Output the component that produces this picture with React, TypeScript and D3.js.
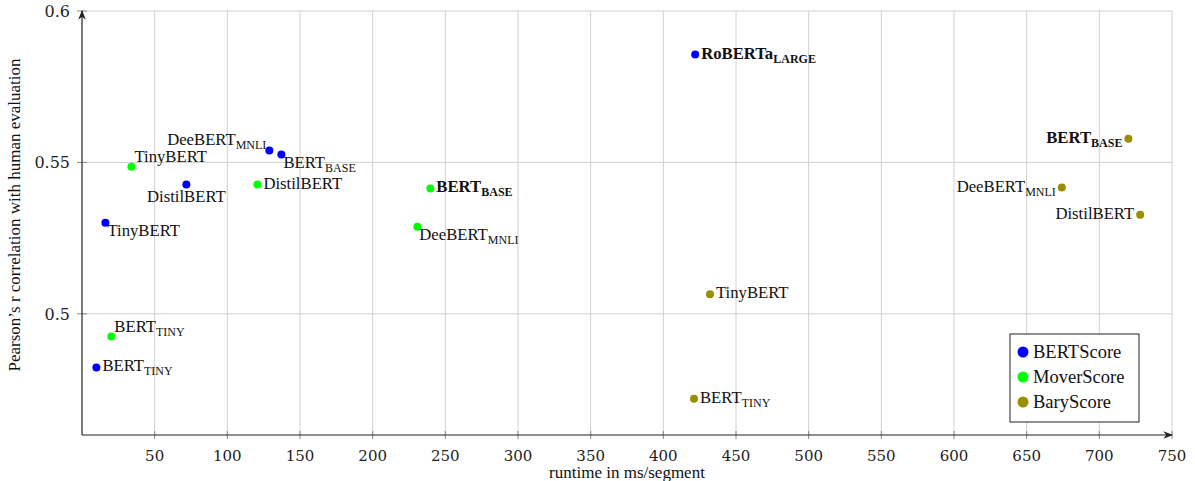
import React from "react";
import * as d3 from "d3";

const W = 1195, H = 481;
const xTicks = [50, 100, 150, 200, 250, 300, 350, 400, 450, 500, 550, 600, 650, 700, 750];
const yTicks = [0.5, 0.55, 0.6];

const seriesNames = ["BERTScore", "MoverScore", "BaryScore"];
const seriesColors = ["#0000ff", "#00ff00", "#998f00"];

// [name, sub, bold, x, y, placement]
type P = [string, string, boolean, number, number, string];
const bertScore: P[] = [
  ["RoBERTa", "LARGE", true, 421.9, 0.5856, "e"],
  ["DeeBERT", "MNLI", false, 128.9, 0.5539, "nw"],
  ["BERT", "BASE", false, 137.2, 0.5526, "se"],
  ["DistilBERT", "", false, 71.8, 0.5427, "s"],
  ["TinyBERT", "", false, 16.1, 0.5301, "se"],
  ["BERT", "TINY", false, 9.9, 0.4823, "e"],
];
const moverScore: P[] = [
  ["TinyBERT", "", false, 34.0, 0.5486, "ne"],
  ["DistilBERT", "", false, 120.7, 0.5427, "e"],
  ["BERT", "BASE", true, 239.7, 0.5414, "e"],
  ["DeeBERT", "MNLI", false, 230.7, 0.5288, "se"],
  ["BERT", "TINY", false, 20.2, 0.4925, "ne"],
];
const baryScore: P[] = [
  ["BERT", "BASE", true, 720.0, 0.5578, "w"],
  ["DeeBERT", "MNLI", false, 674.2, 0.5417, "w"],
  ["DistilBERT", "", false, 728.1, 0.5327, "w"],
  ["TinyBERT", "", false, 432.1, 0.5065, "e"],
  ["BERT", "TINY", false, 421.1, 0.4720, "e"],
];
const allSeries = [bertScore, moverScore, baryScore];

const x = d3.scaleLinear().domain([0, 750]).range([82, 1172]);
const y = d3.scaleLinear().domain([0.46, 0.6]).range([435, 11]);

const labelFont = "'Liberation Serif', 'Times New Roman', serif";
const tickFont = "'DejaVu Serif', serif";

function Label({ p }: { p: P }) {
  const [name, sub, bold, vx, vy, pl] = p;
  const px = x(vx), py = y(vy);
  let tx = px, ty = py + 5, anchor: "start" | "middle" | "end" = "start";
  if (pl === "e") { tx = px + 6; ty = py + 4; }
  else if (pl === "w") { tx = px - 6; ty = py + 4; anchor = "end"; }
  else if (pl === "ne") { tx = px + 3; ty = py - 5; }
  else if (pl === "nw") { tx = px - 3; ty = py - 6; anchor = "end"; }
  else if (pl === "se") { tx = px + 2; ty = py + 13; }
  else if (pl === "s") { tx = px; ty = py + 17; anchor = "middle"; }
  return (
    <text x={tx} y={ty} textAnchor={anchor} fontFamily={labelFont} fontSize={16.7}
      fontWeight={bold ? "bold" : "normal"} fill="#111">
      {name}
      {sub && <tspan fontSize={12} dy={4}>{sub}</tspan>}
    </text>
  );
}

export default function App() {
  return (
    <svg width={W} height={H} style={{ position: "absolute", left: 0, top: 0 }}>
      <defs>
        <marker id="arr" viewBox="0 0 10 10" refX="9" refY="5" markerWidth="8" markerHeight="8" orient="auto-start-reverse">
          <path d="M0,1 L10,5 L0,9 L3,5 z" fill="#222" />
        </marker>
      </defs>
      {/* grid */}
      {xTicks.map((t) => (
        <line key={"gx" + t} x1={x(t)} x2={x(t)} y1={y(0.46)} y2={y(0.6)} stroke="#d0d0d0" strokeWidth={1} />
      ))}
      {yTicks.map((t) => (
        <line key={"gy" + t} x1={x(0)} x2={x(750)} y1={y(t)} y2={y(t)} stroke="#d0d0d0" strokeWidth={1} />
      ))}
      {/* ticks */}
      {xTicks.map((t) => (
        <line key={"tx" + t} x1={x(t)} x2={x(t)} y1={y(0.46) - 4} y2={y(0.46) + 4} stroke="#888" strokeWidth={1} />
      ))}
      {yTicks.map((t) => (
        <line key={"ty" + t} x1={x(0) - 5} x2={x(0) + 5} y1={y(t)} y2={y(t)} stroke="#888" strokeWidth={1} />
      ))}
      {/* axes */}
      <line x1={x(0)} x2={x(0)} y1={y(0.46)} y2={y(0.6)} stroke="#222" strokeWidth={1.2} markerEnd="url(#arr)" />
      <line x1={x(0)} x2={x(750)} y1={y(0.46)} y2={y(0.46)} stroke="#222" strokeWidth={1.2} markerEnd="url(#arr)" />
      {/* tick labels */}
      {xTicks.map((t) => (
        <text key={"lx" + t} x={x(t)} y={461} textAnchor="middle" fontFamily={tickFont} fontSize={15} fill="#222">{t}</text>
      ))}
      {yTicks.map((t) => (
        <text key={"ly" + t} x={70} y={y(t) + 6} textAnchor="end" fontFamily={tickFont} fontSize={16} fill="#222">{d3.format("")(t)}</text>
      ))}
      {/* axis titles */}
      <text x={627} y={478} textAnchor="middle" fontFamily={labelFont} fontSize={17} fill="#111">runtime in ms/segment</text>
      <text transform={`translate(20,215) rotate(-90)`} textAnchor="middle" fontFamily={labelFont} fontSize={17} fill="#111">Pearson’s r correlation with human evaluation</text>
      {/* points */}
      {allSeries.map((s, i) => (
        <g key={"s" + i}>
          {s.map((p, j) => (
            <g key={j}>
              <circle cx={x(p[3])} cy={y(p[4])} r={4} fill={seriesColors[i]} />
              <Label p={p} />
            </g>
          ))}
        </g>
      ))}
      {/* legend */}
      <rect x={1010} y={334} width={129} height={88} fill="#fff" stroke="#222" strokeWidth={1} />
      {seriesNames.map((n, i) => (
        <g key={n}>
          <circle cx={1023} cy={352 + i * 25} r={5.5} fill={seriesColors[i]} />
          <text x={1033} y={358 + i * 25} fontFamily={labelFont} fontSize={18.5} fill="#111">{n}</text>
        </g>
      ))}
    </svg>
  );
}
